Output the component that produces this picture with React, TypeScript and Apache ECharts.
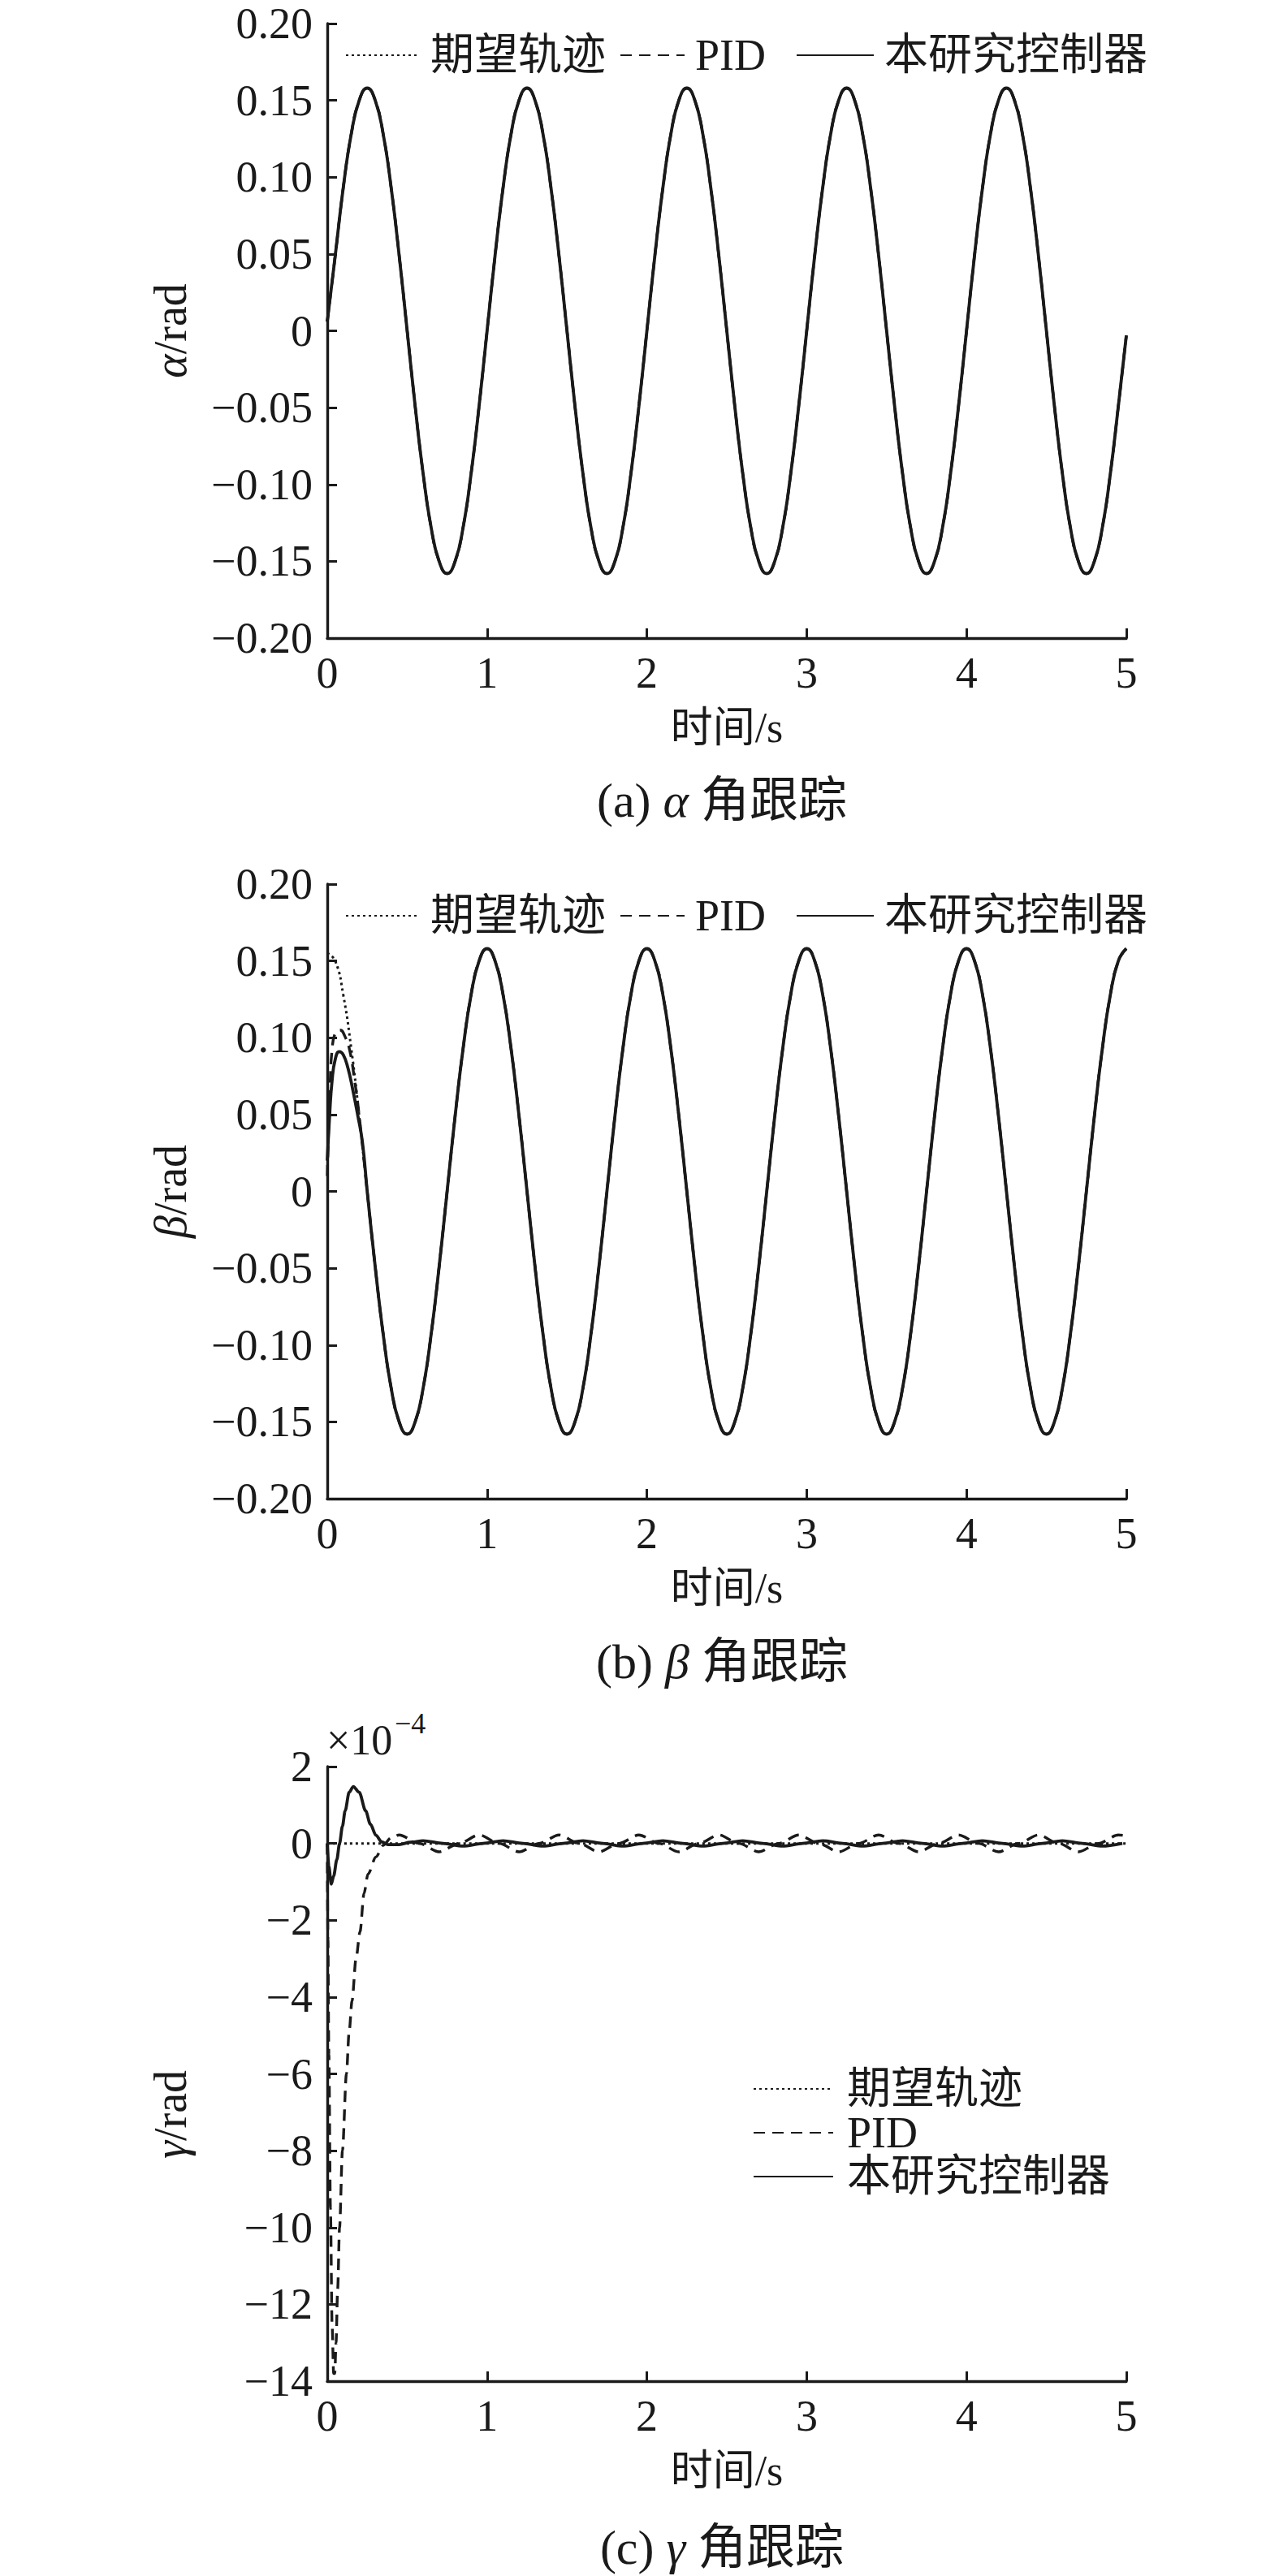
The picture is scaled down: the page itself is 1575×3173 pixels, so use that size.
import React, { useEffect, useRef } from "react";
import * as echarts from "echarts";

const FONT = "'Liberation Serif', 'Noto Sans CJK SC', serif";
const INK = "#1a1a1a";
const SERIES_NAMES = ["期望轨迹", "PID", "本研究控制器"];
const X_NAME = "时间/s";
const CAPTIONS = ["{n|(a) }{i|α}{n| 角跟踪}", "{n|(b) }{i|β}{n| 角跟踪}", "{n|(c) }{i|γ}{n| 角跟踪}"];
const Y_NAMES = ["{i|α}/rad", "{i|β}/rad", "{i|γ}/rad"];

// sample step (s) of the sinusoidal reference traces
const T_STEP = 0.05;

// panel (a): alpha (rad), t = 0 .. 5 s every 0.05 s; all three traces coincide
const alphaDesired = [
  0.006, 0.049, 0.093, 0.128, 0.150, 0.158, 0.150, 0.128, 0.093, 0.049,
  0.000, -0.049, -0.093, -0.128, -0.150, -0.158, -0.150, -0.128, -0.093, -0.049,
  0.000, 0.049, 0.093, 0.128, 0.150, 0.158, 0.150, 0.128, 0.093, 0.049,
  0.000, -0.049, -0.093, -0.128, -0.150, -0.158, -0.150, -0.128, -0.093, -0.049,
  0.000, 0.049, 0.093, 0.128, 0.150, 0.158, 0.150, 0.128, 0.093, 0.049,
  0.000, -0.049, -0.093, -0.128, -0.150, -0.158, -0.150, -0.128, -0.093, -0.049,
  0.000, 0.049, 0.093, 0.128, 0.150, 0.158, 0.150, 0.128, 0.093, 0.049,
  0.000, -0.049, -0.093, -0.128, -0.150, -0.158, -0.150, -0.128, -0.093, -0.049,
  0.000, 0.049, 0.093, 0.128, 0.150, 0.158, 0.150, 0.128, 0.093, 0.049,
  0.000, -0.049, -0.093, -0.128, -0.150, -0.158, -0.150, -0.128, -0.093, -0.049,
  -0.003,
];

// panel (b): beta (rad), t = 0 .. 5 s every 0.05 s
const betaDesired = [
  0.155, 0.150, 0.128, 0.093, 0.049, 0.000, -0.049, -0.093, -0.128, -0.150,
  -0.158, -0.150, -0.128, -0.093, -0.049, 0.000, 0.049, 0.093, 0.128, 0.150,
  0.158, 0.150, 0.128, 0.093, 0.049, 0.000, -0.049, -0.093, -0.128, -0.150,
  -0.158, -0.150, -0.128, -0.093, -0.049, 0.000, 0.049, 0.093, 0.128, 0.150,
  0.158, 0.150, 0.128, 0.093, 0.049, 0.000, -0.049, -0.093, -0.128, -0.150,
  -0.158, -0.150, -0.128, -0.093, -0.049, 0.000, 0.049, 0.093, 0.128, 0.150,
  0.158, 0.150, 0.128, 0.093, 0.049, 0.000, -0.049, -0.093, -0.128, -0.150,
  -0.158, -0.150, -0.128, -0.093, -0.049, 0.000, 0.049, 0.093, 0.128, 0.150,
  0.158, 0.150, 0.128, 0.093, 0.049, 0.000, -0.049, -0.093, -0.128, -0.150,
  -0.158, -0.150, -0.128, -0.093, -0.049, 0.000, 0.049, 0.093, 0.128, 0.150,
  0.158,
];
// transients [t, value] before the trackers join the reference
const betaPIDStart = [
  [0, 0.01], [0.008, 0.04], [0.018, 0.07], [0.03, 0.092], [0.05, 0.103],
  [0.08, 0.105], [0.11, 0.101], [0.14, 0.092], [0.17, 0.073],
];
const betaPIDJoin = 0.2;
const betaCtrlStart = [
  [0, 0.02], [0.015, 0.05], [0.03, 0.072], [0.05, 0.086], [0.075, 0.091],
  [0.1, 0.089], [0.13, 0.08], [0.16, 0.066], [0.19, 0.05], [0.22, 0.032],
];
const betaCtrlJoin = 0.25;

// panel (c): gamma (×1e-4 rad)
const gammaDesired = [[0, 0], [5, 0]];
const gammaPIDStart = [
  [0, 0], [0.004, -2.5], [0.01, -5.5], [0.02, -9.5], [0.03, -12.5], [0.04, -13.8],
  [0.047, -13.8], [0.055, -13.0], [0.065, -11.6], [0.077, -10], [0.095, -8],
  [0.12, -6], [0.137, -4.9], [0.155, -4.1], [0.18, -3.0], [0.205, -2.3],
  [0.23, -1.3], [0.255, -0.8], [0.305, -0.35], [0.35, -0.05], [0.4, 0.15],
];
// steady oscillation samples, every 0.125 s
const TAIL_STEP = 0.125;
const gammaPIDTailStart = 0.45;
const gammaPIDTail = [
  0.22, 0, -0.22, 0, 0.22, 0, -0.22, 0, 0.22, 0, -0.22, 0,
  0.22, 0, -0.22, 0, 0.22, 0, -0.22, 0, 0.22, 0, -0.22, 0,
  0.22, 0, -0.22, 0, 0.22, 0, -0.22, 0, 0.22, 0, -0.22, 0,
  0.22,
];
const gammaPIDEnd = [5, 0.2];
const gammaCtrlStart = [
  [0, 0], [0.01, -0.6], [0.025, -1.06], [0.04, -0.85], [0.06, -0.42], [0.077, 0],
  [0.095, 0.45], [0.112, 0.85], [0.137, 1.33], [0.163, 1.48], [0.2, 1.33],
  [0.24, 0.85], [0.27, 0.5], [0.305, 0.21], [0.34, 0.04], [0.38, -0.03],
  [0.45, -0.03], [0.52, 0.03],
];
const gammaCtrlTailStart = 0.6;
const gammaCtrlTail = [
  0.07, 0, -0.07, 0, 0.07, 0, -0.07, 0, 0.07, 0, -0.07, 0,
  0.07, 0, -0.07, 0, 0.07, 0, -0.07, 0, 0.07, 0, -0.07, 0,
  0.07, 0, -0.07, 0, 0.07, 0, -0.07, 0, 0.07, 0, -0.07, 0,
];

// axis ranges
const X_MIN = 0, X_MAX = 5, X_INT = 1;
const AB_MIN = -0.2, AB_MAX = 0.2, AB_INT = 0.05;
const C_MIN = -14, C_MAX = 2, C_INT = 2;

const W = 1575, H = 3173;
const GRID_LEFT = 403, GRID_W = 984, GRID_H = 757;
const GRID_TOPS = [29, 1089, 2176];

function gridPairs(vals: number[], step: number, t0 = 0) {
  return vals.map((v, i) => [+(t0 + i * step).toFixed(4), v]);
}

const minus = (s: string) => s.replace("-", "\u2212");

export default function App() {
  const ref = useRef<HTMLDivElement>(null);
  useEffect(() => {
    document.body.style.margin = "0";
    if (!ref.current) return;
    const chart = echarts.init(ref.current, undefined, { renderer: "svg" });

    const alphaPairs = gridPairs(alphaDesired, T_STEP);
    const betaPairs = gridPairs(betaDesired, T_STEP);
    const betaPID = [...betaPIDStart, ...betaPairs.filter(([t]) => t >= betaPIDJoin - 1e-9)];
    const betaCtrl = [...betaCtrlStart, ...betaPairs.filter(([t]) => t >= betaCtrlJoin - 1e-9)];
    const gammaPID = [...gammaPIDStart, ...gridPairs(gammaPIDTail, TAIL_STEP, gammaPIDTailStart), gammaPIDEnd];
    const gammaCtrl = [...gammaCtrlStart, ...gridPairs(gammaCtrlTail, TAIL_STEP, gammaCtrlTailStart)];

    const panels = [
      [alphaPairs, alphaPairs, alphaPairs],
      [betaPairs, betaPID, betaCtrl],
      [gammaDesired, gammaPID, gammaCtrl],
    ];

    const lineStyles = [
      { type: [3, 4], width: 3, color: INK },
      { type: [14, 9], width: 3.4, color: INK },
      { type: "solid", width: 3.8, color: INK },
    ];

    const series: any[] = [];
    panels.forEach((p, gi) => {
      p.forEach((data, si) => {
        series.push({
          type: "line",
          name: SERIES_NAMES[si],
          xAxisIndex: gi,
          yAxisIndex: gi,
          data,
          symbol: "none",
          smooth: gi === 2 ? 0.3 : 0.5,
          smoothMonotone: gi === 2 ? "x" : undefined,
          lineStyle: lineStyles[si],
          itemStyle: { color: INK },
          z: 2 + si,
        });
      });
    });

    const tickFont = { fontSize: 54, fontFamily: FONT, color: INK };
    const italic = { fontSize: 56, fontFamily: FONT, color: INK, fontStyle: "italic" };

    const xAxes = GRID_TOPS.map((_, gi) => ({
      type: "value",
      gridIndex: gi,
      min: X_MIN,
      max: X_MAX,
      interval: X_INT,
      axisLine: { onZero: false, lineStyle: { color: INK, width: 3.4 } },
      axisTick: { inside: true, length: 12, lineStyle: { color: INK, width: 3 } },
      axisLabel: { ...tickFont, margin: 16 },
      splitLine: { show: false },
      name: X_NAME,
      nameLocation: "middle",
      nameGap: 84,
      nameTextStyle: { fontSize: 52, fontFamily: FONT, color: INK },
    }));

    const yAxes = GRID_TOPS.map((_, gi) => {
      const isC = gi === 2;
      return {
        type: "value",
        gridIndex: gi,
        min: isC ? C_MIN : AB_MIN,
        max: isC ? C_MAX : AB_MAX,
        interval: isC ? C_INT : AB_INT,
        axisLine: { onZero: false, lineStyle: { color: INK, width: 3.4 } },
        axisTick: { inside: true, length: 12, lineStyle: { color: INK, width: 3 } },
        axisLabel: {
          ...tickFont,
          margin: 18,
          formatter: (v: number) =>
            isC ? minus(String(Math.round(v))) : Math.abs(v) < 1e-9 ? "0" : minus(v.toFixed(2)),
        },
        splitLine: { show: false },
        name: Y_NAMES[gi],
        nameLocation: "middle",
        nameGap: 165,
        nameRotate: 90,
        nameTextStyle: {
          fontSize: 56,
          fontFamily: FONT,
          color: INK,
          padding: isC ? [0, 100, 0, 0] : 0,
          rich: { i: italic },
        },
      };
    });

    const legendText = { fontSize: 54, fontFamily: FONT, color: INK, lineHeight: 60 };
    const topLegendPos = [
      { name: SERIES_NAMES[0], left: 425, w: 91 },
      { name: SERIES_NAMES[1], left: 763, w: 79 },
      { name: SERIES_NAMES[2], left: 980, w: 95 },
    ];
    const legends: any[] = [];
    [0, 1].forEach((gi) => {
      topLegendPos.forEach((lp) => {
        legends.push({
          data: [lp.name],
          left: lp.left,
          top: GRID_TOPS[gi] + 39 - 30,
          padding: 0,
          itemWidth: lp.w,
          itemHeight: 2,
          itemStyle: { opacity: 0 },
          selectedMode: false,
          textStyle: { ...legendText, padding: [0, 0, 0, 8] },
        });
      });
    });
    legends.push({
      data: SERIES_NAMES,
      orient: "vertical",
      left: 927,
      top: 2546,
      padding: 0,
      itemGap: 0,
      itemWidth: 98,
      itemHeight: 2,
      itemStyle: { opacity: 0 },
      selectedMode: false,
      textStyle: { ...legendText, lineHeight: 47, padding: [0, 0, 0, 12] },
    });

    const capRich = {
      n: { fontSize: 60, fontFamily: FONT, color: INK },
      i: { fontSize: 60, fontFamily: FONT, color: INK, fontStyle: "italic" },
    };
    const capY = [986, 2047, 3138];
    const graphics: any[] = capY.map((y, i) => ({
      type: "text",
      x: 889,
      y,
      style: {
        text: CAPTIONS[i],
        rich: capRich,
        align: "center",
        verticalAlign: "middle",
        textAlign: "center",
        textVerticalAlign: "middle",
        fontSize: 60,
        fontFamily: FONT,
        fill: INK,
      },
    }));
    graphics.push({
      type: "text",
      x: 402,
      y: 2143,
      style: { text: "×10", fontSize: 52, fontFamily: FONT, fill: INK, verticalAlign: "middle", textVerticalAlign: "middle" },
    });
    graphics.push({
      type: "text",
      x: 486,
      y: 2123,
      style: { text: "\u22124", fontSize: 36, fontFamily: FONT, fill: INK, verticalAlign: "middle", textVerticalAlign: "middle" },
    });

    chart.setOption({
      animation: false,
      backgroundColor: "#ffffff",
      grid: GRID_TOPS.map((top) => ({ left: GRID_LEFT, top, width: GRID_W, height: GRID_H })),
      xAxis: xAxes,
      yAxis: yAxes,
      legend: legends,
      series,
      graphic: graphics,
    });
    return () => chart.dispose();
  }, []);
  return <div ref={ref} style={{ width: W, height: H }} />;
}
